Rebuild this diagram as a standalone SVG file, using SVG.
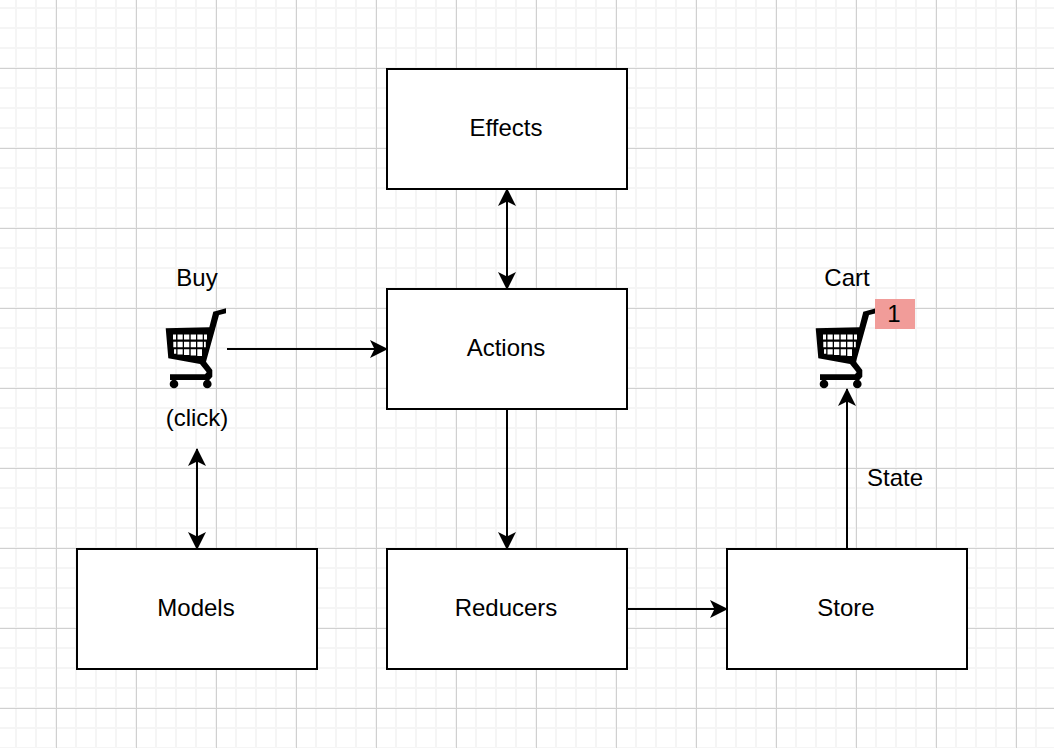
<svg xmlns="http://www.w3.org/2000/svg" width="1054" height="748" viewBox="0 0 1054 748">
<style>
.box{fill:#fff;stroke:#000;stroke-width:2}
.lbl{font-family:"Liberation Sans",Arial,sans-serif;font-size:24px;fill:#000;text-anchor:middle}
.edge{fill:none;stroke:#000;stroke-width:2}
</style>
<defs>
<pattern id="minor" width="20" height="20" patternUnits="userSpaceOnUse" x="6" y="-2"><path d="M10 0V20M0 10H20" fill="none" stroke="#f5f5f5" stroke-width="2"/></pattern>
<pattern id="major" width="80" height="80" patternUnits="userSpaceOnUse" x="16" y="28"><path d="M40.5 0V80M0 40.5H80" fill="none" stroke="#d0d0d0" stroke-width="1"/></pattern>
<marker id="end" viewBox="0 0 18 18" refX="17" refY="9" markerWidth="18" markerHeight="18" markerUnits="userSpaceOnUse" orient="auto-start-reverse"><path d="M0 0L18 9L0 18L4.5 9Z" fill="#000"/></marker>
<g id="cart">
<path d="M165.7 328.3L209.3 327.3L213.3 311.7L226 308.3L226 313.3L219 315L206 361.7L212.3 370L212.3 376.7L209.3 380L170 380L170 374.3L205 374.3L206.7 372.3L200 364L168.3 358.3Z" fill="#000"/>
<circle cx="174" cy="384" r="4.3" fill="#000"/><circle cx="207.3" cy="384" r="4.3" fill="#000"/>
<path d="M173 334.5h3v5h-3zM177.5 334.5h5.2v5h-5.2zM184 334.5h5.3v5H184zM190.7 334.5h5.3v5h-5.3zM197.3 334.5h5.4v5h-5.4zM204 334.5h3v5h-3zM173.3 341.7h2.9v5.6h-2.9zM177.5 341.7h5.2v5.6h-5.2zM184 341.7h5.3v5.6H184zM190.7 341.7h5.3v5.6h-5.3zM197.3 341.7h5.4v5.6h-5.4zM204 341.7h1.8v5.6h-1.8zM174 349.3h2.2v4.5h-2.2zM177.5 349.3h5.2v5.2h-5.2zM184 349.3h5.3v5.8H184zM190.7 349.3h5.3v6.3h-5.3zM197.3 349.3h4.7v6.6h-4.7z" fill="#fff"/>
</g>
</defs>
<rect width="1054" height="748" fill="#fff"/>
<rect width="1054" height="748" fill="url(#minor)"/>
<rect width="1054" height="748" fill="url(#major)"/>
<g id="connectors">
<path class="edge" d="M507 189V289" marker-start="url(#end)" marker-end="url(#end)"/>
<path class="edge" d="M227 349H387" marker-end="url(#end)"/>
<path class="edge" d="M507 409V549" marker-end="url(#end)"/>
<path class="edge" d="M197 449V549" marker-start="url(#end)" marker-end="url(#end)"/>
<path class="edge" d="M627 609H727" marker-end="url(#end)"/>
<path class="edge" d="M847 549V389" marker-end="url(#end)"/>
</g>
<g id="effects"><rect class="box" x="387" y="69" width="240" height="120"/><text class="lbl" x="506" y="136">Effects</text></g>
<g id="actions"><rect class="box" x="387" y="289" width="240" height="120"/><text class="lbl" x="506" y="356">Actions</text></g>
<g id="reducers"><rect class="box" x="387" y="549" width="240" height="120"/><text class="lbl" x="506" y="616">Reducers</text></g>
<g id="models"><rect class="box" x="77" y="549" width="240" height="120"/><text class="lbl" x="196" y="616">Models</text></g>
<g id="store"><rect class="box" x="727" y="549" width="240" height="120"/><text class="lbl" x="846" y="616">Store</text></g>
<g id="buy-cart"><use href="#cart"/><text class="lbl" x="197" y="286">Buy</text><text class="lbl" x="197" y="426">(click)</text></g>
<g id="store-cart"><use href="#cart" x="650"/><text class="lbl" x="847" y="286">Cart</text><rect x="875" y="299" width="40" height="30" fill="#f19c99"/><text class="lbl" x="894" y="322">1</text></g>
<g id="state"><text class="lbl" x="895" y="486">State</text></g>
</svg>
